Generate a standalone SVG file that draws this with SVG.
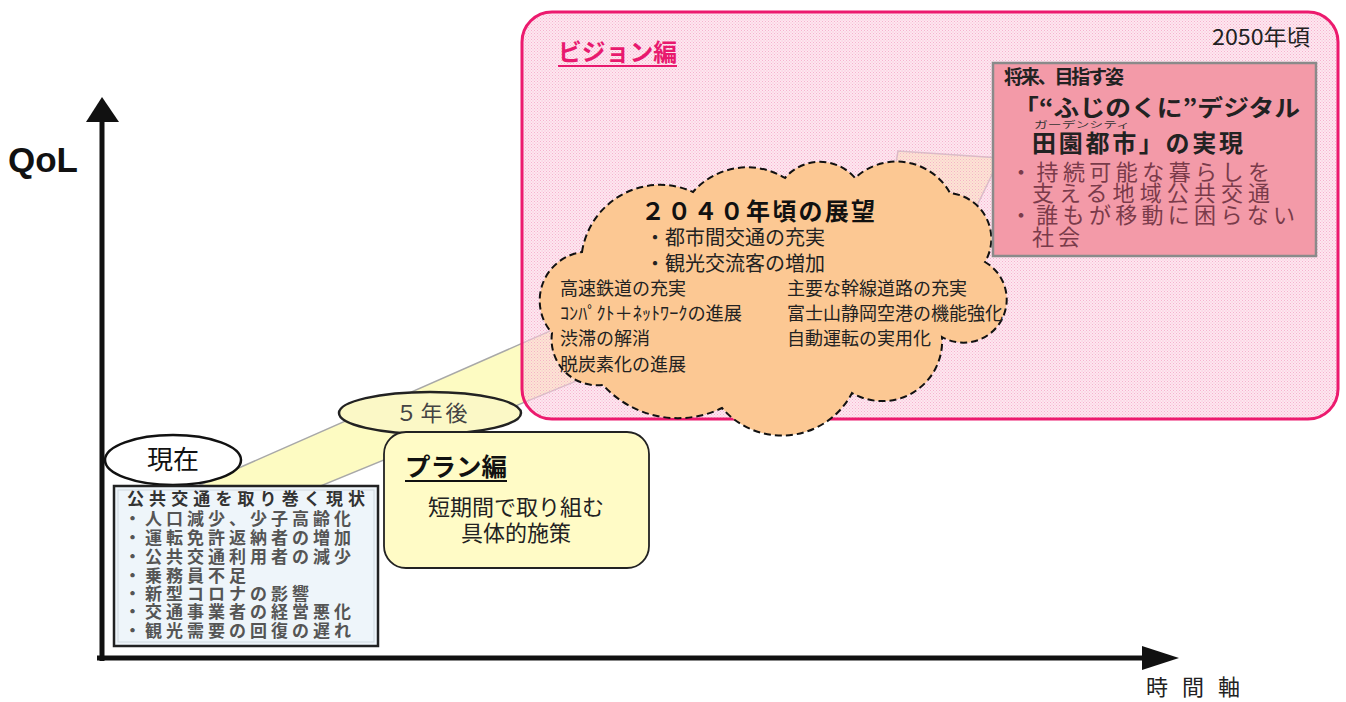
<svg xmlns="http://www.w3.org/2000/svg" width="1346" height="702" viewBox="0 0 1346 702">
<defs>
<pattern id="pk" width="3" height="3" patternUnits="userSpaceOnUse">
<rect width="3" height="3" fill="#fbd3e4" fill-opacity="0.55"/>
<rect x="0" y="0" width="1" height="1" fill="#f49cc1" fill-opacity="0.7"/>
<rect x="1.5" y="1.5" width="1" height="1" fill="#f49cc1" fill-opacity="0.7"/>
</pattern>
<style>
.jp{font-family:"Noto Sans CJK JP","Noto Sans CJK SC",sans-serif}
.ax{stroke:#111;stroke-width:5;fill:none}
.ah{fill:#111}
.cl{font-size:18px;fill:#222}
.st{font-size:17px;fill:#555;font-weight:bold;letter-spacing:4px}
.rb{font-size:22px;fill:#7a3b4a}
</style>
</defs>
<rect width="1346" height="702" fill="#ffffff"/>

<!-- connectors: axes and growth band -->
<g id="connectors">
<polygon id="band" points="200,485 893,180 898,151 1000,158 945,272 915,242 240,519" fill="#fdfbc2" stroke="#a8a8a8" stroke-width="1.5"/>
<line class="ax" x1="102" y1="661" x2="102" y2="118"/>
<polygon class="ah" points="102,97 86,122 119,122"/>
<line class="ax" x1="97" y1="658" x2="1146" y2="658"/>
<polygon class="ah" points="1179,658 1142,646 1142,670"/>
</g>

<g id="axis-labels">
<text x="8" y="172" font-family="Liberation Sans, Arial, sans-serif" font-weight="bold" font-size="35" fill="#111">QoL</text>
<text class="jp" x="1146" y="695" font-size="22" fill="#222" textLength="94" lengthAdjust="spacing">時間軸</text>
</g>

<g id="vision">
<rect x="522" y="12" width="816" height="407" rx="30" ry="30" fill="url(#pk)" stroke="#ec1a6e" stroke-width="3"/>
<text class="jp" x="558" y="61" font-size="24" font-weight="bold" fill="#e8196e" textLength="119" lengthAdjust="spacingAndGlyphs">ビジョン編</text>
<line x1="558" y1="66" x2="677" y2="66" stroke="#e8196e" stroke-width="2"/>
<text class="jp" x="1212" y="45" font-size="22" fill="#222" textLength="98" lengthAdjust="spacingAndGlyphs">2050年頃</text>
</g>

<g id="cloud-2040">
<path d="M582,252 A79,79 0 0 1 693,192 A72,72 0 0 1 785,178 A46,46 0 0 1 855,178 A61,61 0 0 1 950,193 A46,46 0 0 1 985,262 A43,43 0 0 1 942,337 A60,60 0 0 1 852,393 A79,79 0 0 1 722,408 A101,101 0 0 1 603,385 A46,46 0 0 1 552,333 A49,49 0 0 1 582,252 Z" fill="#fcc893" stroke="#111" stroke-width="2" stroke-dasharray="7 4"/>
<text class="jp" x="641" y="220" font-size="24" font-weight="bold" fill="#111" textLength="234" lengthAdjust="spacing">２０４０年頃の展望</text>
<text class="jp" x="645" y="245" font-size="20" fill="#222">・都市間交通の充実</text>
<text class="jp" x="645" y="271" font-size="20" fill="#222">・観光交流客の増加</text>
<text class="jp cl" x="560" y="295">高速鉄道の充実</text>
<text class="jp cl" x="560" y="320" textLength="182" lengthAdjust="spacingAndGlyphs">ｺﾝﾊﾟｸﾄ＋ﾈｯﾄﾜｰｸの進展</text>
<text class="jp cl" x="560" y="345">渋滞の解消</text>
<text class="jp cl" x="560" y="371">脱炭素化の進展</text>
<text class="jp cl" x="787" y="295">主要な幹線道路の充実</text>
<text class="jp cl" x="787" y="320">富士山静岡空港の機能強化</text>
<text class="jp cl" x="787" y="345">自動運転の実用化</text>
</g>

<g id="future-box">
<rect x="993" y="63" width="323" height="193" fill="#f39aa8" stroke="#8a8a8a" stroke-width="2.5"/>
<text class="jp" x="1004" y="84" font-size="19" font-weight="bold" fill="#222" textLength="120" lengthAdjust="spacing">将来、目指す姿</text>
<text class="jp" x="1013" y="116" font-size="23" font-weight="bold" fill="#222" textLength="287" lengthAdjust="spacingAndGlyphs">「“ふじのくに”デジタル</text>
<text class="jp" x="1034" y="128" font-size="9" fill="#333" textLength="96" lengthAdjust="spacingAndGlyphs">ガーデンシティ</text>
<text class="jp" x="1032" y="152" font-size="24" font-weight="bold" fill="#222" textLength="211" lengthAdjust="spacing">田園都市」の実現</text>
<text class="jp rb" x="1010" y="180" textLength="260" lengthAdjust="spacing">・持続可能な暮らしを</text>
<text class="jp rb" x="1032" y="201" textLength="238" lengthAdjust="spacing">支える地域公共交通</text>
<text class="jp rb" x="1010" y="223" textLength="285" lengthAdjust="spacing">・誰もが移動に困らない</text>
<text class="jp rb" x="1032" y="245" textLength="48" lengthAdjust="spacing">社会</text>
</g>

<g id="now">
<ellipse cx="173" cy="460" rx="68" ry="25" fill="#ffffff" stroke="#111" stroke-width="2.5"/>
<text class="jp" x="173" y="469" font-size="26" fill="#111" text-anchor="middle">現在</text>
</g>

<g id="five-years">
<ellipse cx="430" cy="413" rx="91" ry="21" fill="#fbf8c6" stroke="#222" stroke-width="2.5"/>
<text class="jp" x="433" y="421" font-size="22" fill="#444" text-anchor="middle" letter-spacing="3">５年後</text>
</g>

<g id="current-status">
<rect x="114" y="486" width="264" height="160" fill="#eef5fa" stroke="#222" stroke-width="2.5"/>
<rect x="118" y="490" width="256" height="152" fill="none" stroke="#cfd8de" stroke-width="1"/>
<text class="jp" x="127" y="505" font-size="17" font-weight="bold" fill="#333" textLength="238" lengthAdjust="spacing">公共交通を取り巻く現状</text>
<text class="jp st" x="124" y="525">・人口減少、少子高齢化</text>
<text class="jp st" x="124" y="544">・運転免許返納者の増加</text>
<text class="jp st" x="124" y="563">・公共交通利用者の減少</text>
<text class="jp st" x="124" y="582">・乗務員不足</text>
<text class="jp st" x="124" y="600">・新型コロナの影響</text>
<text class="jp st" x="124" y="618">・交通事業者の経営悪化</text>
<text class="jp st" x="124" y="637">・観光需要の回復の遅れ</text>
</g>

<g id="plan">
<rect x="384" y="432" width="265" height="136" rx="22" ry="22" fill="#fffbc6" stroke="#222" stroke-width="1.8"/>
<text class="jp" x="405" y="476" font-size="25" font-weight="bold" fill="#111" textLength="102" lengthAdjust="spacingAndGlyphs">プラン編</text>
<line x1="405" y1="481" x2="507" y2="481" stroke="#111" stroke-width="2"/>
<text class="jp" x="516" y="515" font-size="22" fill="#222" text-anchor="middle">短期間で取り組む</text>
<text class="jp" x="516" y="541" font-size="22" fill="#222" text-anchor="middle">具体的施策</text>
</g>
</svg>
